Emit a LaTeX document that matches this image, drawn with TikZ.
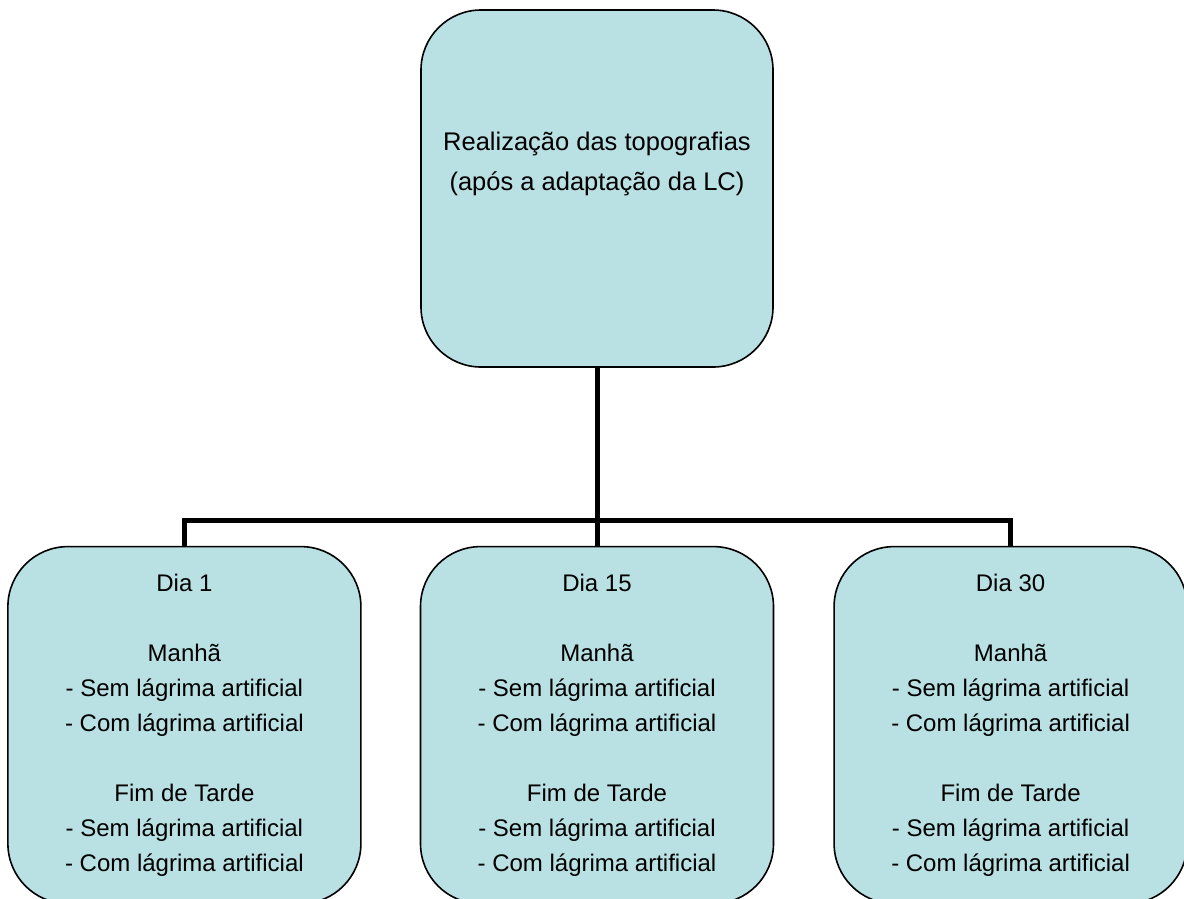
\documentclass[tikz,border=0pt]{standalone}
\usepackage{fontspec}
\setmainfont{Liberation Sans}
\usepackage{tikz}
\usetikzlibrary{positioning,calc}
\definecolor{boxfill}{RGB}{185,224,227}

\begin{document}
\begin{tikzpicture} [
  x=1pt, y=-1pt,
  box node/.style= {draw,line width=1.6pt,fill=boxfill,rounded corners=60pt,inner sep=0pt,minimum width=353pt,minimum height=357pt},
  day node/.style= {box node,align=center,font=\fontsize{24}{35}\selectfont},
  edge line/.style={line width=5pt,draw}
]
\useasboundingbox (0,0) rectangle (1184,898);
\node (T) [box node,minimum width=352pt] at (597,188.5) {};
\node (Ttext) [align=center,font=\fontsize{25.5}{40}\selectfont] at ($(T.center)+(0,-25)$)
  {Realização das topografias\\(após a adaptação da LC)};
\node (D15) [day node,below=178pt of T] {Dia 15\\[35pt]Manhã\\- Sem lágrima artificial\\- Com lágrima artificial\\[35pt]Fim de Tarde\\- Sem lágrima artificial\\- Com lágrima artificial};
\node (D1) [day node,left=58pt of D15] {Dia 1\\[35pt]Manhã\\- Sem lágrima artificial\\- Com lágrima artificial\\[35pt]Fim de Tarde\\- Sem lágrima artificial\\- Com lágrima artificial};
\node (D30) [day node,right=59pt of D15] {Dia 30\\[35pt]Manhã\\- Sem lágrima artificial\\- Com lágrima artificial\\[35pt]Fim de Tarde\\- Sem lágrima artificial\\- Com lágrima artificial};
\coordinate (hub) at ($(T.south)+(0,153)$);
\draw [edge line] (T.south) -- (hub);
\draw [edge line] (hub) -| (D1.north);
\draw [edge line] (hub) -- (D15.north);
\draw [edge line] (hub) -| (D30.north);
\end{tikzpicture}
\end{document}
